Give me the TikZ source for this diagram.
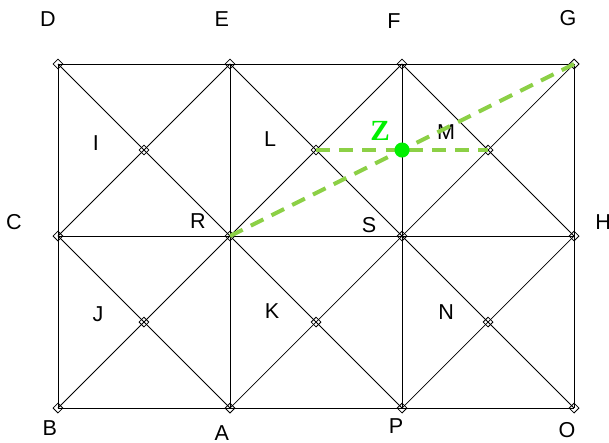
\documentclass[tikz,border=0pt]{standalone}
\usepackage{fontspec}
\setmainfont{Liberation Sans}
\newfontfamily\zfont{Liberation Serif}
\usetikzlibrary{shapes.geometric}
\tikzset{>=latex}
\definecolor{trackgreen}{RGB}{140,208,70}
\definecolor{zgreen}{RGB}{0,240,0}
\tikzstyle{vertex}=[diamond,draw,thin,inner sep=0pt,minimum size=5pt]
\tikzstyle{lbl}=[font=\fontsize{10.7}{13}\selectfont,inner sep=0pt]
\tikzstyle{track}=[dashed,dash pattern=on 7pt off 4.5pt,trackgreen,line width=2pt]

\begin{document}
\begin{tikzpicture}[x=3cm,y=3cm]
  \useasboundingbox (-0.337,-0.203) rectangle (3.203,2.372);
  % grid points
  \foreach \name/\x/\y in {B/0/0,A/1/0,P/2/0,O/3/0,C/0/1,R/1/1,S/2/1,H/3/1,
      D/0/2,E/1/2,F/2/2,G/3/2,J/0.5/0.5,K/1.5/0.5,N/2.5/0.5,I/0.5/1.5,L/1.5/1.5,M/2.5/1.5}
    \node[vertex] (\name) at (\x,\y) {};
  % rectangle lines
  \foreach \a/\b in {D/E,E/F,F/G,C/R,R/S,S/H,B/A,A/P,P/O,
      D/C,C/B,E/R,R/A,F/S,S/P,G/H,H/O}
    \draw (\a.center) -- (\b.center);
  % diagonals
  \foreach \a/\b in {D/I,I/R,E/I,I/C,E/L,L/S,F/L,L/R,F/M,M/H,G/M,M/S,
      C/J,J/A,R/J,J/B,R/K,K/P,S/K,K/A,S/N,N/O,H/N,N/P}
    \draw (\a.center) -- (\b.center);
  % letters
  \foreach \name/\x/\y in {D/-0.058/2.262,E/0.953/2.262,F/1.953/2.250,G/2.965/2.267,
      C/-0.256/1.081,H/3.169/1.081,I/0.221/1.541,L/1.233/1.564,M/2.256/1.605,
      R/0.814/1.087,S/1.808/1.064,J/0.233/0.547,K/1.244/0.564,N/2.256/0.558,
      B/-0.047/-0.116,A/0.953/-0.145,P/1.965/-0.105,O/2.959/-0.128}
    \node[lbl] (lbl\name) at (\x,\y) {\name};
  % the green tracks
  \draw[track] (R.center) -- (G.center);
  \draw[track] (L.center) -- (M.center);
  \node[circle,fill=zgreen,inner sep=0pt,minimum size=7.5pt] (Z) at (2,1.5) {};
  \node[text=zgreen,font=\zfont\bfseries\fontsize{14.5}{17}\selectfont] (lblZ) at (1.872,1.610) {Z};
\end{tikzpicture}
\end{document}
